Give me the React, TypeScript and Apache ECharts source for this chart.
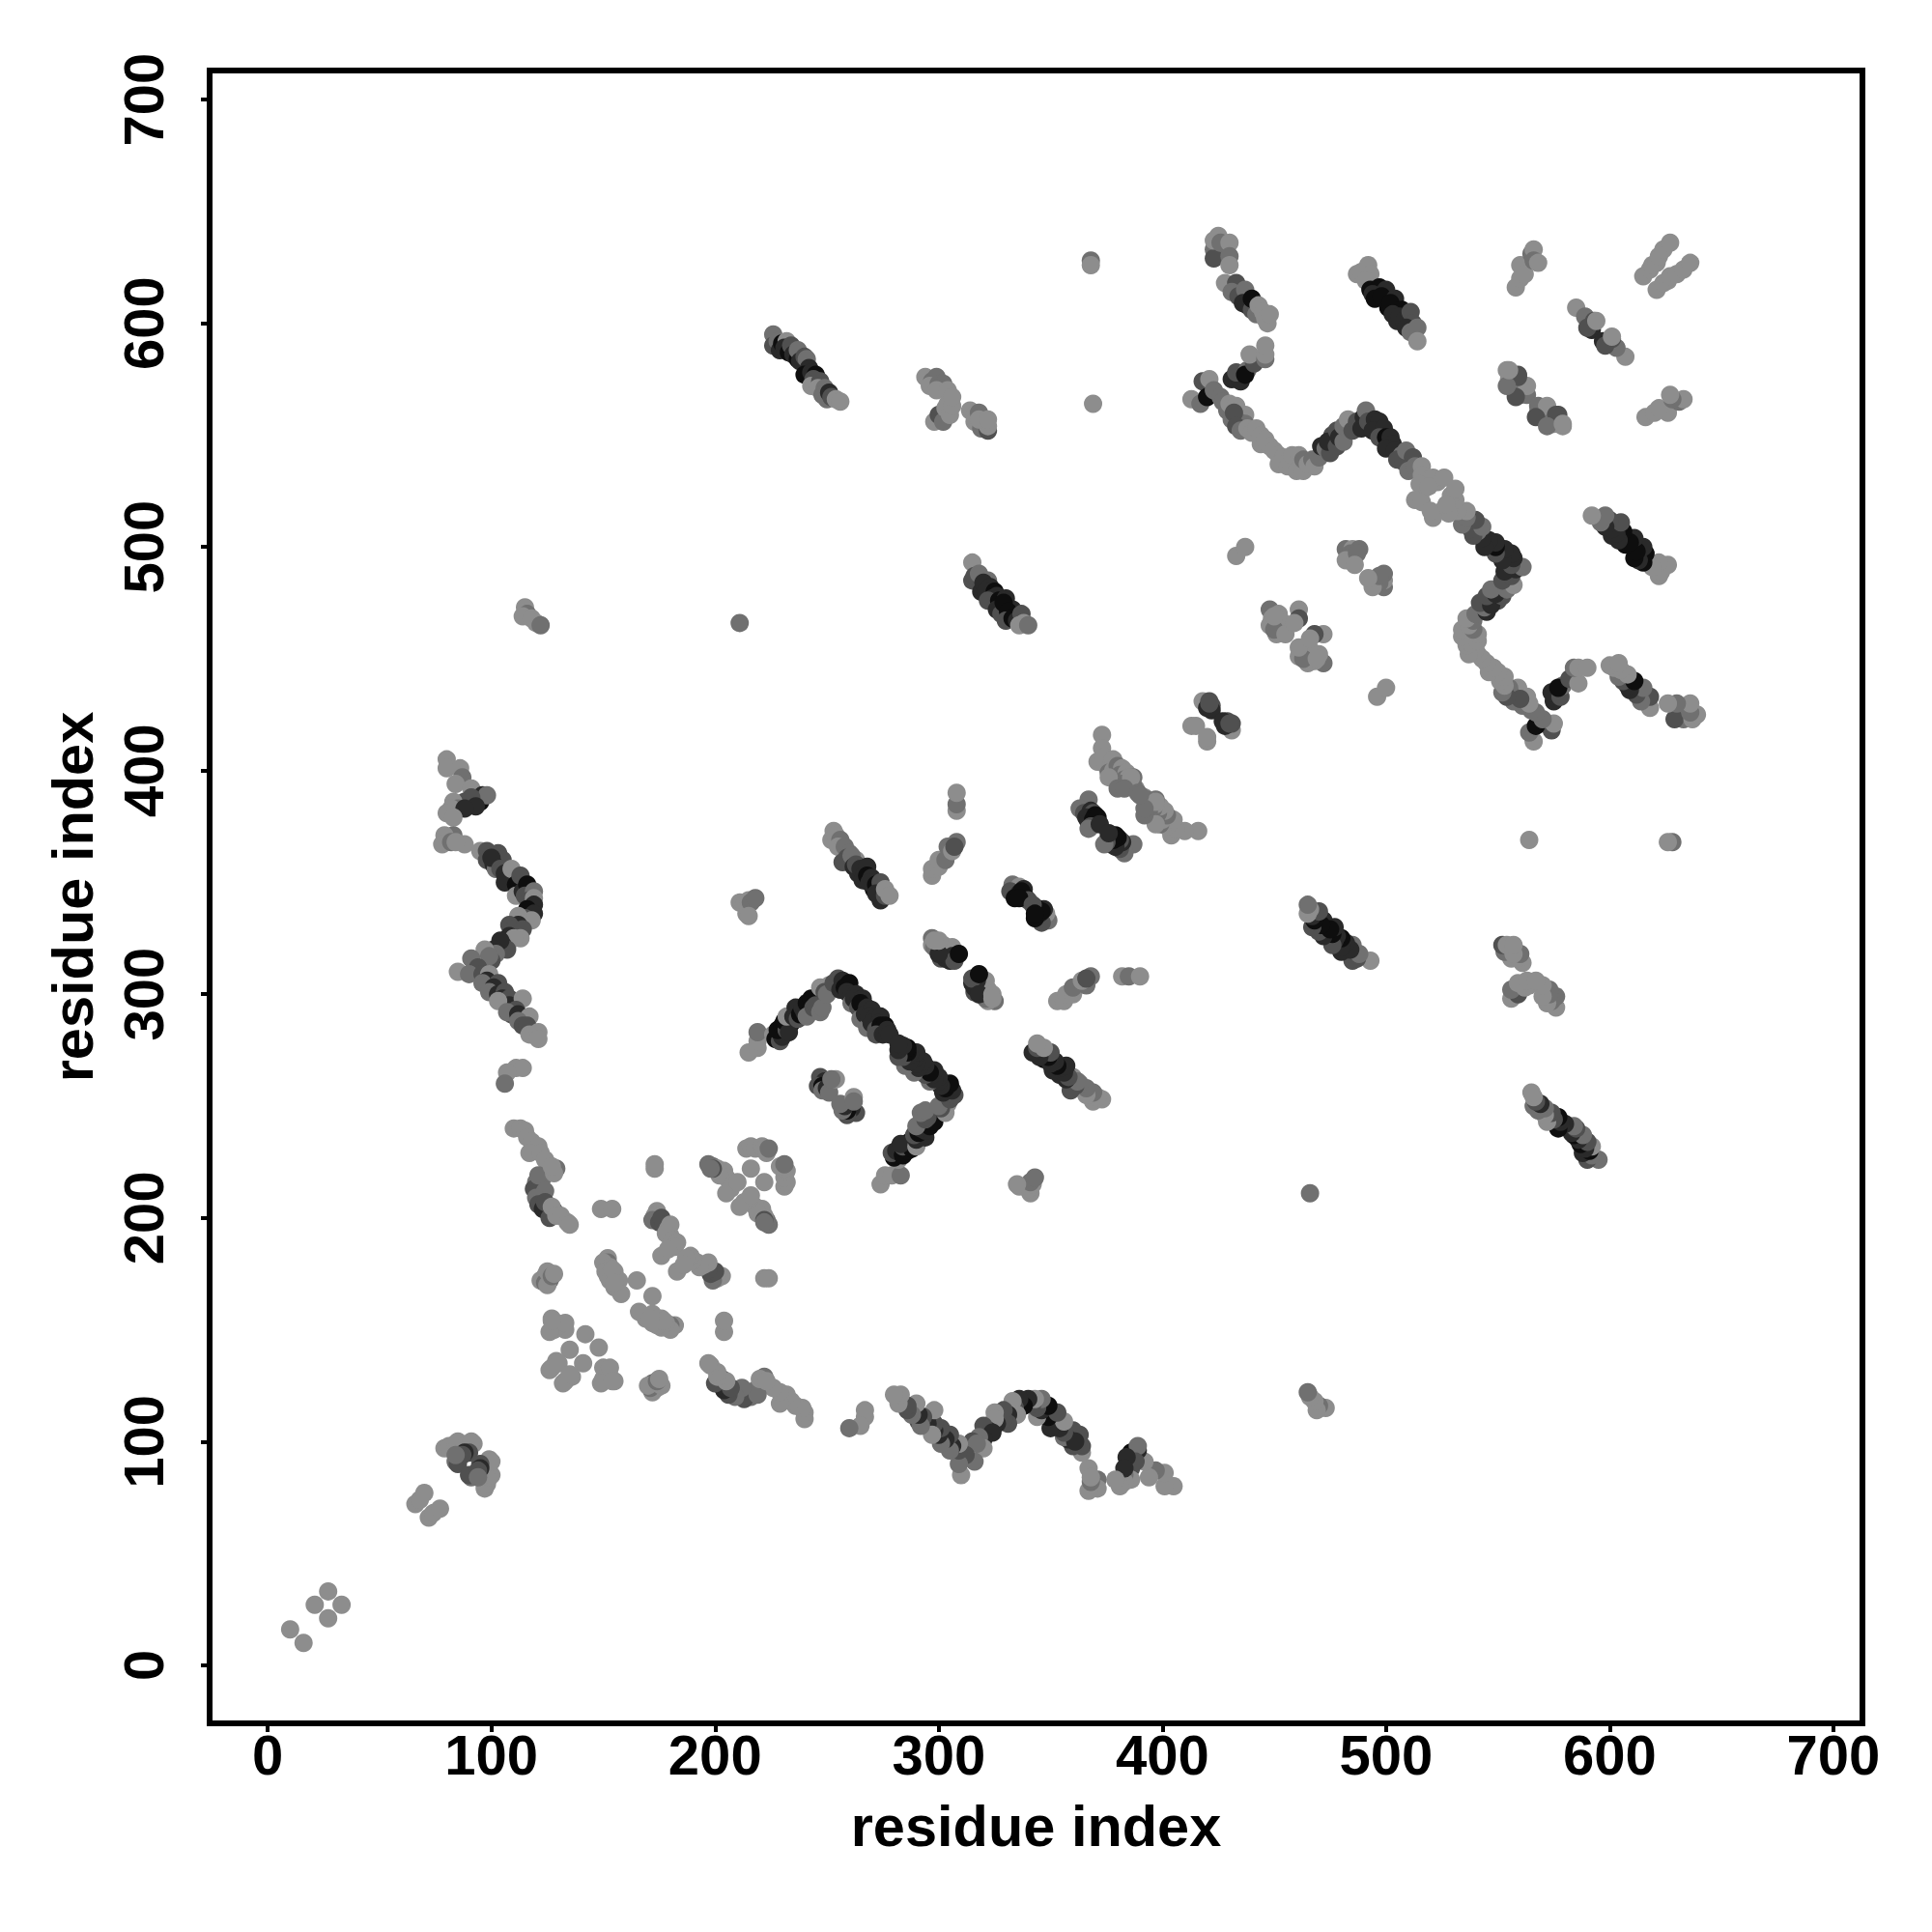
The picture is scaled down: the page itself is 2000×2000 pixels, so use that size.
import React, { useEffect, useRef } from "react";
import * as echarts from "echarts";

const axisTicks = [0, 100, 200, 300, 400, 500, 600, 700];
const axisTitle = "residue index";
const shades = ["#8d8d8d", "#707070", "#505050", "#2a2a2a", "#0e0e0e"];

// Each contact is [residue i, residue j, shade index], i < j; a contact map is symmetric.
const clusterA = [[10,16,0],[21,27,0],[27,33,0]];
const clusterB = [[66,72,0],[68,74,0],[70,77,0]];
const clusterC = [[79,97,0],[81,98,0],[84,99,0],[85,100,0],[88,98,0],[92,99,0],[91,100,0],[84,91,1],[85,90,2],[90,95,2],[88,95,3],[87,94,2],[84,94,1]];
const clusterD = [[110,240,0],[113,240,0],[115,239,0],[116,236,0],[118,234,0],[121,232,0],[117,229,0],[122,229,0],[124,226,0],[123,218,1],[120,216,1],[119,213,2],[121,219,1],[124,212,1],[120,209,1],[129,222,1],[128,220,0],[127,223,0],[121,206,2],[123,204,3],[125,203,3],[124,207,2],[128,203,3],[126,200,2],[127,205,0],[129,201,0],[131,201,0],[134,198,0],[135,197,0]];
const clusterE = [[122,172,0],[124,174,0],[124,171,1],[126,172,1],[125,170,0],[125,176,0],[127,174,1],[128,175,0]];
const clusterF = [[127,155,0],[129,153,0],[131,151,0],[133,150,0],[128,150,0],[130,152,0],[133,153,0],[142,148,0],[135,141,0],[129,136,0],[127,133,0],[126,132,0],[130,135,0],[126,149,0],[127,154,0]];
const clusterH = [[173,222,0],[173,224,0],[149,204,0],[154,204,0]];
const clusterJ = [[174,203,0],[173,201,0],[172,199,1],[175,198,2],[176,200,2],[177,197,2],[179,195,0],[180,192,0],[180,197,0],[178,193,0],[181,190,0],[183,189,0],[182,187,0],[176,183,0],[179,186,0]];
const clusterK = [[152,182,0],[152,180,1],[150,180,0],[153,178,0],[151,176,0],[155,176,0],[152,174,0],[153,172,0],[157,172,0],[155,169,0],[158,166,0],[165,172,0],[154,177,0],[155,171,0]];
const zigzagM = [[80,405,0],[80,401,0],[86,401,0],[87,397,1],[84,394,0],[91,392,0],[88,386,2],[95,386,4],[96,389,3],[98,389,1],[91,388,2],[93,384,3],[83,386,0],[85,383,1],[82,383,0],[88,383,3],[80,381,0],[83,379,0],[83,371,1],[79,371,0],[78,367,0],[82,368,1],[88,367,0],[84,368,0],[95,364,0],[98,364,2],[98,360,2],[103,363,2],[105,360,2],[101,358,3],[102,356,1],[100,361,3],[104,356,2],[106,354,3],[108,352,3],[106,350,3],[109,356,0],[111,349,4],[111,344,0],[113,353,2],[114,346,3],[116,349,4],[115,344,2],[119,346,1],[117,342,2],[119,343,0],[119,340,3],[116,338,4],[119,336,3],[115,334,2],[118,333,0],[112,335,0],[112,331,3],[108,331,2],[110,329,2],[114,329,2],[108,326,3],[113,325,0],[110,325,0],[105,322,3],[107,320,2],[104,324,3],[101,320,3],[102,318,1],[97,320,0],[100,315,2],[99,317,1],[91,316,1],[94,312,2],[85,310,0],[90,309,1],[96,309,2],[99,309,0],[98,306,3],[96,305,1],[103,305,2],[101,303,3],[99,301,1],[103,300,3],[106,301,2],[105,298,3],[108,298,2],[108,295,3],[103,297,0],[114,298,0],[111,293,2],[109,291,2],[107,292,1],[112,291,3],[117,290,0],[112,288,1],[114,286,2],[116,286,2],[117,282,0],[121,283,0],[121,280,0],[111,267,0],[114,267,0],[107,265,0],[106,260,1]];
const clusterN = [[211,341,0],[213,340,0],[214,336,0],[215,342,0],[216,341,1],[218,343,1]];
const clusterV = [[215,274,0],[219,276,0],[219,279,0],[219,283,1]];
const bandP = [[226,282,0],[227,280,4],[229,279,2],[229,283,3],[230,281,3],[228,284,4],[230,286,4],[232,284,2],[231,288,4],[234,287,4],[233,283,3],[232,290,0],[235,290,3],[236,294,3],[237,289,2],[238,291,4],[239,294,3],[240,292,3],[241,296,4],[243,298,4],[241,290,1],[244,294,2],[245,295,2],[247,292,1],[248,294,1],[247,303,0],[251,304,0],[249,301,2],[250,300,1],[253,305,2],[255,307,2],[256,302,3],[257,306,3],[258,303,4],[260,305,4],[259,301,3],[261,300,3],[263,300,3],[261,296,1],[262,298,3],[264,297,3],[266,298,3],[264,294,2],[265,296,4],[268,294,3],[265,289,1],[267,291,3],[270,293,3],[268,285,1],[269,290,3],[271,289,3],[270,287,3],[274,290,3],[273,287,3],[272,284,2],[274,286,4],[276,286,4],[272,282,2],[275,282,3],[277,284,3],[278,282,3]];
const clusterQ = [[247,263,2],[249,261,3],[246,259,2],[248,259,4],[248,257,1],[250,258,3],[251,256,1],[254,262,0],[252,262,1]];
const clusterR = [[214,231,0],[216,232,0],[218,231,0],[221,232,0],[222,231,0],[223,229,0],[224,231,1],[197,224,1],[199,223,1],[201,222,0],[204,221,0],[205,218,0],[202,219,0],[208,215,0],[207,213,0],[205,211,0],[210,216,0],[216,222,0],[199,222,2],[198,222,1],[215,335,0]];
const bandS = [[226,595,1],[226,590,2],[228,592,1],[229,588,3],[230,591,4],[232,592,0],[231,589,3],[233,587,4],[234,590,2],[235,586,3],[237,584,4],[237,588,1],[238,583,3],[240,585,2],[241,584,1],[242,580,3],[240,577,4],[243,578,3],[245,577,4],[244,575,2],[243,572,0],[247,574,2],[246,571,0],[249,571,1],[248,568,1],[250,566,1],[251,569,3],[252,567,2],[254,566,0],[256,565,0]];
const bandT = [[294,576,0],[297,574,1],[299,576,1],[296,572,0],[300,573,1],[302,573,1],[299,570,0],[304,570,0],[298,556,0],[300,559,2],[302,556,1],[303,562,0],[304,564,0],[305,559,0],[306,563,0],[306,567,0],[314,561,0],[316,559,0],[316,556,0],[318,560,1],[320,555,1],[319,553,1],[322,552,2],[322,554,0],[318,557,0],[322,557,0]];
const isolated = [[369,564,0],[368,628,1],[368,626,0],[211,466,1]];
const clusterU = [[115,473,0],[116,470,1],[114,469,0],[118,468,0],[120,466,0],[122,465,1]];
const bandW = [[315,493,0],[315,485,2],[316,487,2],[318,488,1],[322,485,1],[319,480,3],[320,484,3],[323,482,3],[321,480,3],[325,480,4],[324,477,3],[326,478,3],[322,476,2],[327,476,4],[330,477,3],[326,472,3],[328,470,2],[333,472,3],[329,475,4],[331,471,4],[330,467,2],[333,468,4],[335,467,3],[337,470,2],[336,465,0],[338,466,0],[340,465,1]];
const bandX = [[253,373,0],[252,369,0],[254,371,0],[256,369,1],[255,366,0],[258,366,1],[260,363,1],[259,361,2],[257,359,2],[263,360,0],[261,362,1],[262,357,3],[264,354,3],[263,358,2],[265,356,3],[266,351,3],[267,354,3],[268,357,3],[268,353,4],[270,352,3],[271,347,4],[269,350,3],[272,349,4],[274,350,2],[272,345,3],[274,342,3],[276,344,2],[276,347,0],[278,344,0]];
const clusterY = [[308,382,0],[308,385,1],[308,390,0],[297,353,0],[297,356,0],[300,357,0],[300,360,0],[303,360,1],[304,366,1],[306,364,0],[308,368,1],[307,366,2]];
const clusterZ = [[333,349,1],[336,348,0],[338,347,3],[332,346,2],[336,345,3],[334,343,4],[339,343,4],[337,346,4],[340,342,2],[336,343,4]];
const bandAA = [[297,325,1],[297,322,0],[298,321,1],[300,321,1],[302,322,0],[303,318,1],[304,320,1],[306,321,0],[301,316,2],[303,316,3],[305,315,3],[306,317,3],[307,315,2],[300,318,3],[300,324,0],[298,324,0],[309,318,4]];
const clusterAB = [[367,387,1],[363,383,1],[365,381,2],[368,382,3],[369,381,2],[366,379,3],[367,377,3],[370,380,4],[369,378,4],[371,379,4],[368,375,2],[367,374,1],[372,376,3]];
const bandAC = [[373,416,0],[373,410,0],[371,404,0],[374,406,0],[375,402,0],[377,402,0],[378,405,0],[376,399,1],[378,400,0],[380,402,1],[382,401,0],[379,397,1],[381,398,1],[384,399,0],[383,396,1],[385,397,0],[385,393,2],[382,394,1],[387,397,1],[386,395,0],[388,392,0],[387,393,1],[386,397,0],[376,397,0],[380,392,1],[383,392,1],[389,390,1]];
const clusterAD = [[413,420,0],[415,420,0],[418,431,0],[421,431,2],[420,428,3],[422,429,2],[422,427,3],[421,430,2]];
const chainAE = [[423,633,1],[423,629,2],[423,637,0],[425,639,0],[426,636,1],[430,636,0],[430,630,1],[430,626,0],[428,618,0],[433,618,2],[431,614,1],[434,612,2],[437,615,1],[436,609,3],[438,608,3],[440,606,2],[440,611,4],[442,604,1],[443,608,0],[445,605,0],[446,602,0],[447,600,0],[448,604,0]];
const chainAF = [[418,574,2],[421,575,0],[413,566,0],[417,564,1],[420,567,4],[423,570,1],[426,567,1],[427,565,1],[429,561,1],[430,564,0],[433,563,0],[437,559,0],[431,557,1],[434,556,1],[437,555,1],[432,560,2],[433,554,2],[435,552,1],[438,553,0],[440,551,0],[442,553,0],[444,550,0],[444,546,0],[446,548,0],[448,545,0],[450,543,0],[452,541,0],[454,540,0],[452,537,0],[456,536,0],[457,538,0],[458,541,0],[460,534,0],[461,541,0],[463,534,0],[463,539,1],[465,537,0],[467,539,1],[468,536,0],[470,540,1],[471,545,3],[473,544,1],[475,542,2],[476,550,2],[474,547,3],[478,545,2],[478,552,2],[479,549,3],[481,547,1],[481,554,1],[483,557,0],[485,552,2],[487,556,2],[489,553,3],[490,558,3],[491,561,1],[492,556,2],[495,557,3],[497,556,3],[494,552,3],[499,553,3],[497,549,2],[500,549,4],[502,549,3],[503,546,3],[500,544,3],[504,543,3],[507,541,1],[505,539,2],[508,538,2],[509,543,1],[512,540,2],[510,534,1],[513,536,1],[516,536,0],[516,532,0],[519,530,0],[521,531,0],[523,529,0],[526,531,0],[517,526,0],[515,528,0],[513,521,0],[516,520,0],[519,527,0]];
const chainAG = [[431,575,3],[435,574,3],[433,578,2],[438,579,1],[437,577,4],[441,582,2],[439,586,0],[446,584,1],[446,586,0],[446,590,0]];
const bandAH = [[487,622,0],[489,623,0],[492,626,0],[493,622,0],[491,619,0],[493,615,4],[497,616,4],[494,613,3],[500,615,3],[495,611,4],[498,612,4],[504,611,3],[501,607,4],[502,609,4],[507,606,4],[503,604,3],[505,601,3],[506,603,3],[508,601,3],[511,605,2],[512,600,2],[509,598,3],[511,596,1],[514,598,1],[514,592,0]];
const clusterAI = [[482,499,1],[485,499,0],[488,499,1],[484,497,1],[482,494,0],[487,497,1],[486,492,0]];
const clusterAJ = [[448,472,1],[449,468,0],[448,465,0],[452,470,0],[453,467,0],[451,461,0],[450,463,1],[461,472,0],[461,468,2],[455,461,0],[459,466,0],[450,469,0],[433,496,0],[437,500,0]];
const clusterAK = [[558,616,0],[560,620,0],[560,626,0],[562,622,0],[565,631,1],[566,633,0],[566,628,1],[568,627,0]];
const clusterAL = [[585,607,0],[589,603,1],[593,601,2],[592,597,3],[590,598,2],[594,601,0]];
const clusterAM = [[554,579,0],[555,575,0],[559,577,2],[558,571,1],[556,572,2],[562,572,0],[560,568,1],[563,568,1],[563,572,0],[558,567,2],[559,576,2],[554,572,1],[555,579,0]];
const clusterAN = [[615,621,0],[618,624,0],[619,626,0],[621,627,0],[622,630,0],[624,633,0],[627,636,0]];

const contactGroups = [clusterA, clusterB, clusterC, clusterD, clusterE, clusterF, clusterH, clusterJ, clusterK, zigzagM, clusterN, clusterV, bandP, clusterQ, clusterR, bandS, bandT, isolated, clusterU, bandW, bandX, clusterY, clusterZ, bandAA, clusterAB, bandAC, clusterAD, chainAE, chainAF, chainAG, bandAH, clusterAI, clusterAJ, clusterAK, clusterAL, clusterAM, clusterAN];

export default function App() {
  const ref = useRef<HTMLDivElement>(null);
  useEffect(() => {
    const chart = echarts.init(ref.current!, undefined, { renderer: "svg" });
    const upper: any[] = [];
    const lower: any[] = [];
    for (const group of contactGroups) {
      for (const [i, j, s] of group) {
        upper.push({ value: [i, j], itemStyle: { color: shades[s] } });
        lower.push({ value: [j, i], itemStyle: { color: shades[s] } });
      }
    }
    const font = "'Liberation Sans', Arial, sans-serif";
    const axisBase = {
      type: "value" as const,
      min: -26,
      max: 713,
      splitLine: { show: false },
      axisLine: { show: false, onZero: false },
      axisTick: { show: true, length: 9, customValues: axisTicks, lineStyle: { color: "#000", width: 4 } },
      nameLocation: "middle" as const,
      name: axisTitle,
      nameTextStyle: { color: "#000", fontFamily: font, fontWeight: "bold" as const, fontSize: 59.5 },
    };
    chart.setOption({
      animation: false,
      backgroundColor: "#fff",
      grid: { left: 217, top: 73, width: 1711, height: 1711, show: true, borderColor: "#000", borderWidth: 6, backgroundColor: "transparent" },
      xAxis: {
        ...axisBase,
        nameGap: 76,
        axisLabel: { customValues: axisTicks, color: "#000", fontFamily: font, fontWeight: "bold", fontSize: 58, margin: 3, hideOverlap: false },
      },
      yAxis: {
        ...axisBase,
        nameGap: 112,
        axisLabel: { customValues: axisTicks, rotate: 90, color: "#000", fontFamily: font, fontWeight: "bold", fontSize: 58, margin: 40, hideOverlap: false },
      },
      series: [
        {
          type: "scatter",
          symbol: "circle",
          symbolSize: 19,
          data: upper.concat(lower),
          itemStyle: { opacity: 1 },
          silent: true,
          clip: false,
          large: false,
        },
      ],
    });
    return () => chart.dispose();
  }, []);
  return <div ref={ref} style={{ position: "absolute", left: 0, top: 0, width: 2000, height: 2000 }} />;
}
